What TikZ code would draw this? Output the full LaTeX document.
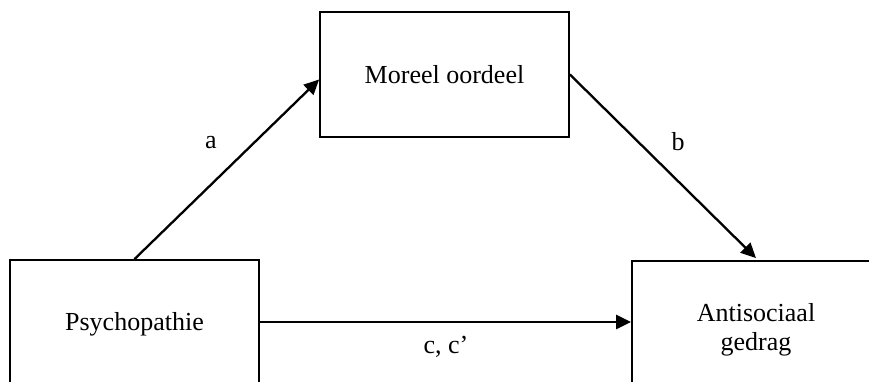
\documentclass[tikz,border=0pt]{standalone}
\usepackage{fontspec}
\setmainfont{Liberation Serif}
\usetikzlibrary{arrows.meta}
\begin{document}
\begin{tikzpicture}[x=1pt,y=-1pt,
  box/.style={draw=black,line width=1.8pt,fill=white,inner sep=0pt,
    font=\fontsize{26}{29}\selectfont,align=center},
  conn/.style={line width=2.3pt,-{Triangle[length=15pt,width=14pt]}},
  lbl/.style={font=\fontsize{26}{30}\selectfont,inner sep=0pt}]
\useasboundingbox (0,0) rectangle (869,382);
\clip (0,0) rectangle (869,382);
\node[box,minimum width=249pt,minimum height=128pt] (P) at (134.5,324) {Psychopathie};
\node[box,minimum width=249pt,minimum height=125pt] (M) at (444.5,74.5) {Moreel oordeel};
\node[box,minimum width=248pt,minimum height=138pt] (A) at (756,330) {Antisociaal\\gedrag};
\draw[conn] (P.north) -- ([yshift=-5pt]M.west);
\draw[conn] (M.east) -- ([yshift=2pt]A.north);
\draw[conn] ([yshift=2pt]P.east) -- ([yshift=8pt]A.west);
\node[lbl] (la) at (211,143) {a};
\node[lbl] (lb) at (678,142) {b};
\node[lbl] (lc) at (446,347) {c, c’};
\end{tikzpicture}
\end{document}
